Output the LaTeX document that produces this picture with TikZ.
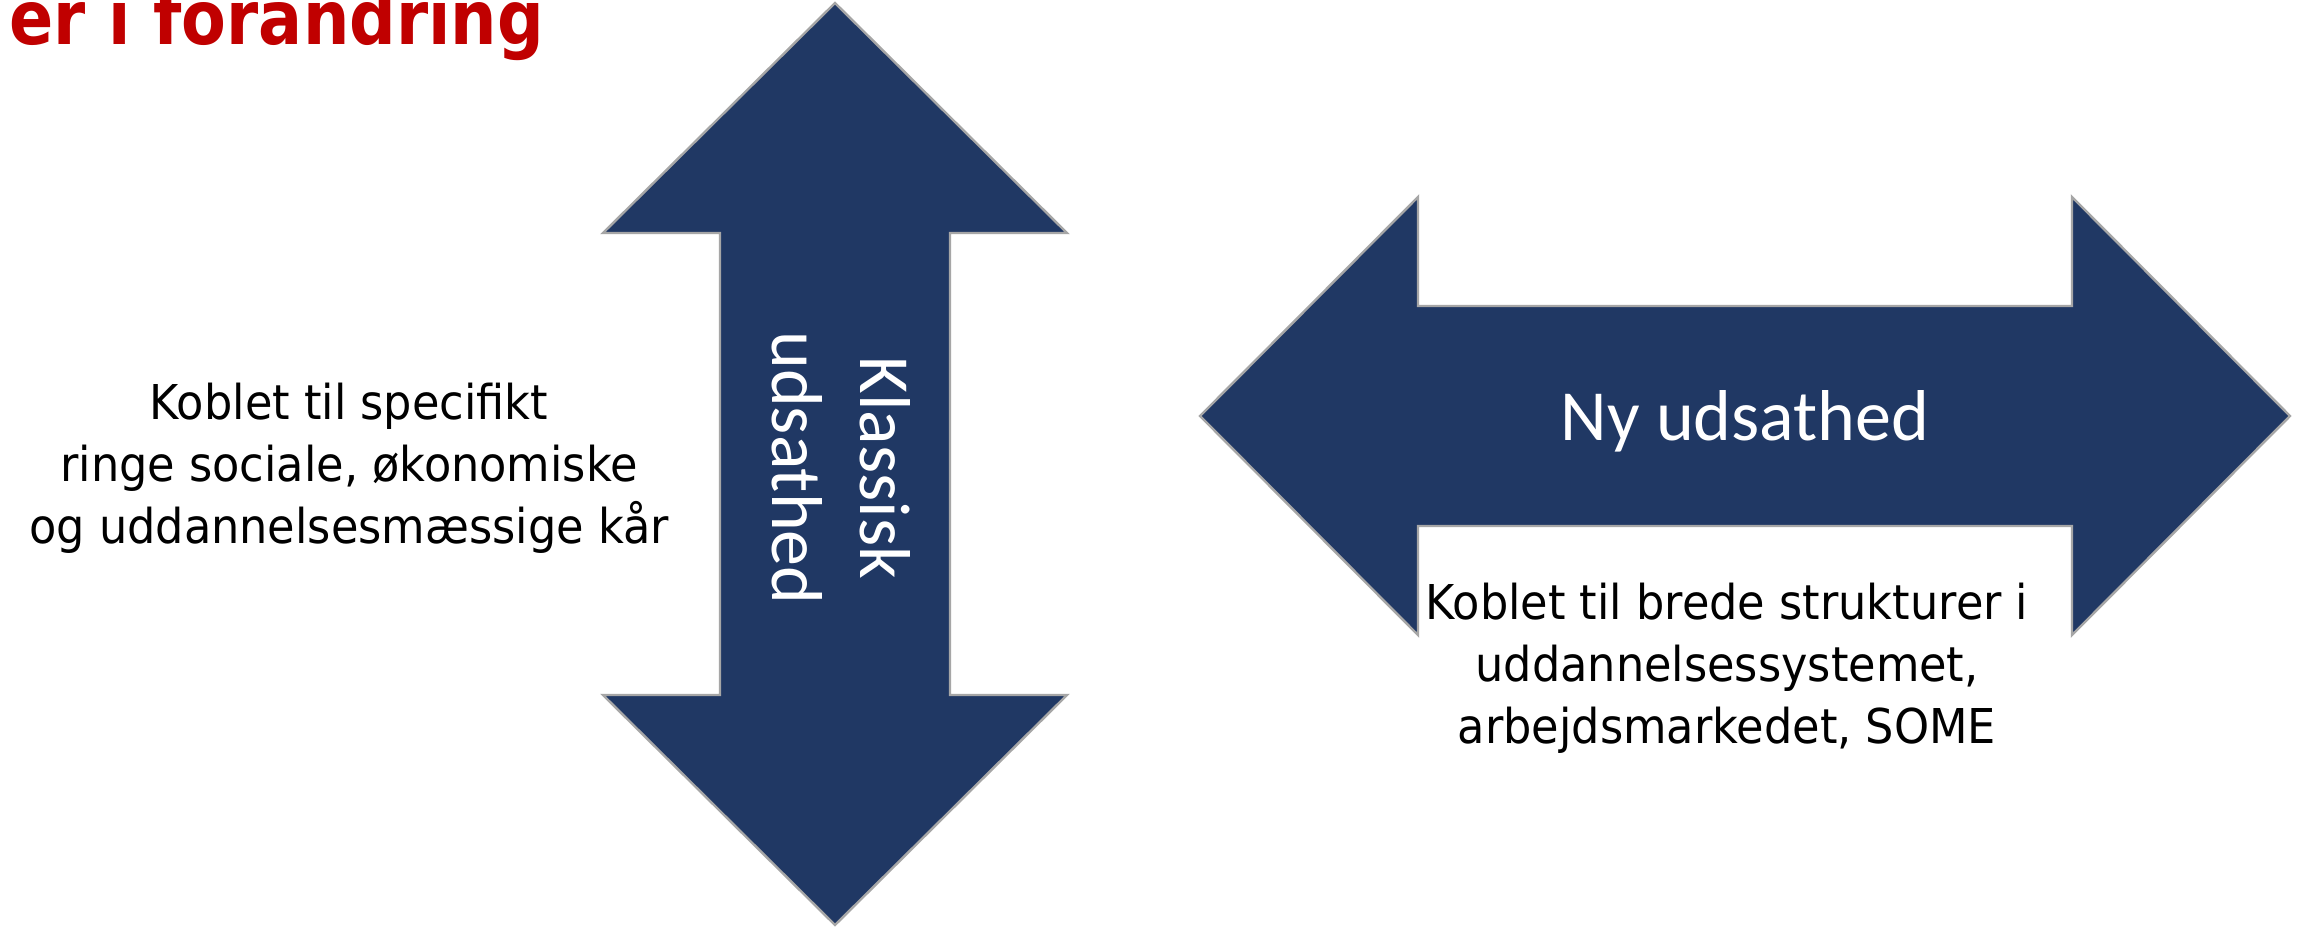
\documentclass[tikz,border=0pt]{standalone}
\usepackage{fontspec}
\setmainfont{DejaVu Sans}
\newfontfamily\calfont{Carlito}
\newfontfamily\bodyfont{DejaVu Sans}[FakeStretch=0.93]
\newfontfamily\titlefont{DejaVu Sans}[FakeStretch=0.87]
\definecolor{navy}{HTML}{203864}
\definecolor{edgegrey}{HTML}{A6A6A6}
\definecolor{titlered}{HTML}{C00000}
\tikzset{
  bigarrow/.style={fill=navy, draw=edgegrey, line width=1.2pt, line join=miter},
  bodytext/.style={inner sep=0pt, align=center, font=\bodyfont\fontsize{24pt}{31pt}\selectfont},
  arrowtext/.style={inner sep=0pt, align=center, text=white, font=\calfont\fontsize{36pt}{44pt}\selectfont},
}
\begin{document}
\begin{tikzpicture}[x=0.5pt,y=-0.5pt]
\useasboundingbox (0,0) rectangle (2305,937);
\clip (0,0) rectangle (2305,937);
\fill[white] (0,0) rectangle (2305,937);
% title (cut off at top, as in the reference)
\node[inner sep=0pt, anchor=base west, text=titlered, font=\titlefont\bfseries\fontsize{37.5pt}{40pt}\selectfont] (title) at (9,44) {er i forandring};
% vertical double arrow
\draw[bigarrow] (835,3) -- (1067,233) -- (950,233) -- (950,695) -- (1067,695) -- (835,925)
  -- (603,695) -- (720,695) -- (720,233) -- (603,233) -- cycle;
% horizontal double arrow
\draw[bigarrow] (1200,416) -- (1418,197) -- (1418,306) -- (2072,306) -- (2072,197) -- (2290,416)
  -- (2072,635) -- (2072,526) -- (1418,526) -- (1418,635) -- cycle;
% texts
\node[arrowtext, rotate=-90] (klassisk) at (841,468) {Klassisk\\udsathed};
\node[arrowtext, anchor=base] (ny) at (1745,440) {Ny udsathed};
\node[bodytext] (left) at (349,468) {Koblet til specifikt\\ringe sociale, økonomiske\\og uddannelsesmæssige kår};
\node[bodytext] (right) at (1727,668) {Koblet til brede strukturer i\\uddannelsessystemet,\\arbejdsmarkedet, SOME};
\end{tikzpicture}
\end{document}
